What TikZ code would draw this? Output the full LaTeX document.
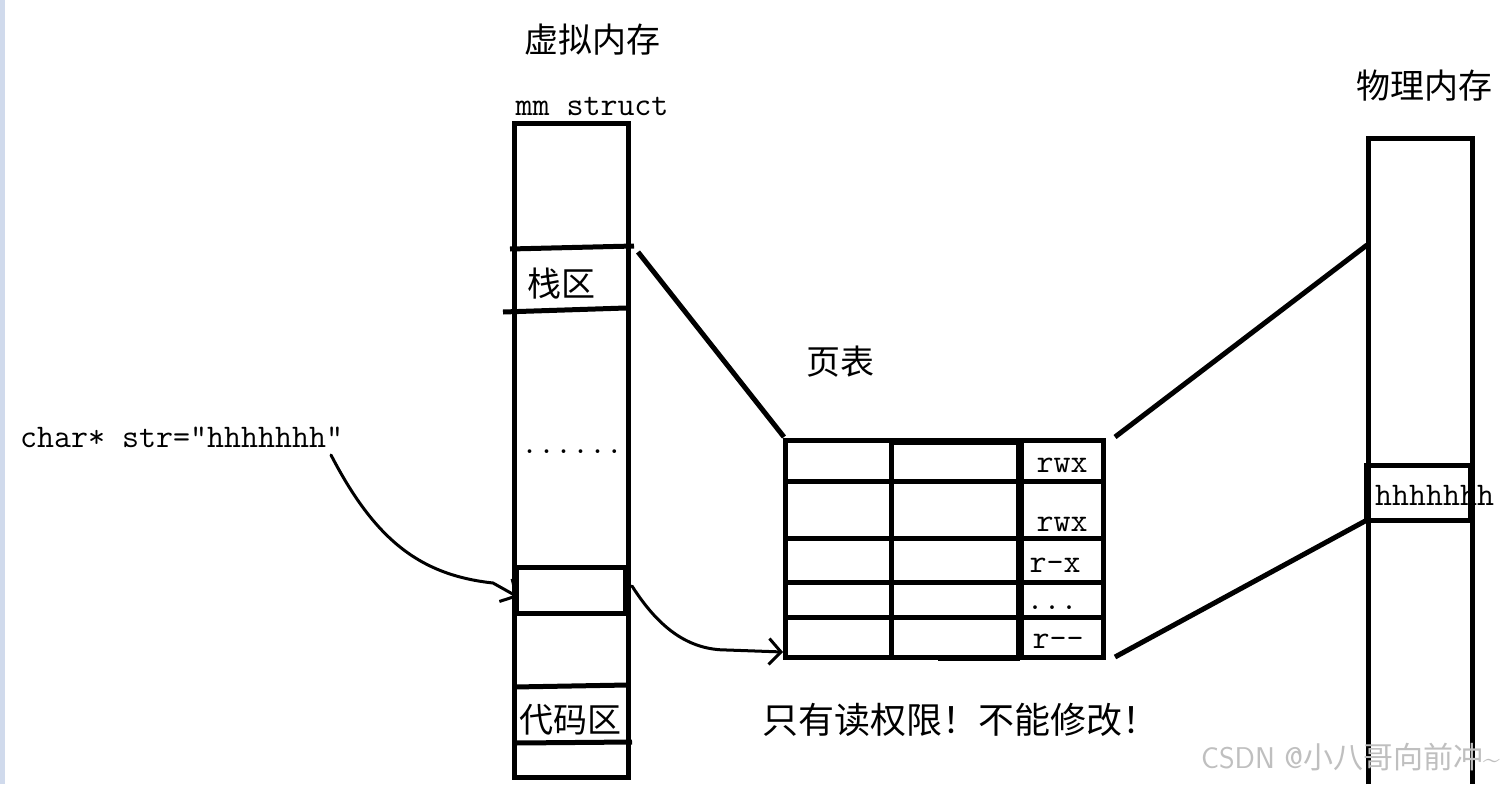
\documentclass[tikz,border=0pt]{standalone}
\usepackage{fontspec}
\newfontfamily\cjk{Noto Sans CJK SC}
\usetikzlibrary{arrows.meta}
\definecolor{strip}{RGB}{208,218,236}
\begin{document}
\begin{tikzpicture}[x=1pt,y=-1pt,
  bold/.style={line width=5pt},
  hand/.style={line width=3pt, line cap=round, line join=round},
  barb/.style={-{Straight Barb[length=12pt,width=26pt,line width=3pt]}},
  cn/.style={font=\cjk\fontsize{34}{34}\selectfont, inner sep=0pt},
  mono/.style={font=\ttfamily\fontsize{33}{33}\selectfont, inner sep=0pt},
  wm/.style={font=\sffamily\fontsize{30}{30}\selectfont, text=black!25, inner sep=0pt}]
\useasboundingbox (0,0) rectangle (1506,784);
\fill[white] (0,0) rectangle (1506,784);
\fill[strip] (0,0) rectangle (5,784);

% ---------- virtual memory ----------
\node[cn] (vtitle) at (592,40) {虚拟内存};
\node[mono] (mm) at (592,106) {mm struct};
\draw[bold] (514,123) rectangle (628,777);
\draw[bold] (510,249) -- (634,246);
\draw[bold] (503,312) -- (626,308);
\node[cn,anchor=west] (stack) at (527,284) {栈区};
\node[mono] (vdots) at (572,452) {......};
\draw[bold] (516,567) rectangle (625,613);
\draw[bold] (514,687) -- (628,685);
\draw[bold] (516,743) -- (632,742);
\node[cn,anchor=west] (code) at (519,720) {代码区};
\coordinate (vstr) at (518,597);
\coordinate (vstackR) at (638,252);
\coordinate (vstrR) at (632,586);

% ---------- left text ----------
\node[mono,anchor=west] (decl) at (20,437) {char* str="hhhhhhh"};
\coordinate (declEnd) at (331,455);

% ---------- page table ----------
\node[cn] (pttitle) at (840,362) {页表};
\draw[bold] (785,440) rectangle (1103,657);
\foreach \yy in {481,538,582,617}{\draw[bold] (785,\yy) -- (1106,\yy);}
\draw[bold] (891,440) -- (891,657);
\draw[line width=8pt] (1020,440) -- (1020,657);
\draw[line width=7pt] (891,441) -- (1020,441);
\draw[bold] (938,658) -- (1020,658);
\node[mono] (p1) at (1062,465) {rwx};
\node[mono] (p2) at (1062,524) {rwx};
\node[mono] (p3) at (1055,565) {r-x};
\node[mono,anchor=base] (p4) at (1052,609) {...};
\node[mono] (p5) at (1058,641) {r--};
\coordinate (ptTL) at (784,437);
\coordinate (ptTR) at (1115,437);
\coordinate (ptBR) at (1115,657);
\coordinate (ptIn) at (783,652);

% ---------- physical memory ----------
\node[cn] (ptitle) at (1424,86) {物理内存};
\draw[bold] (1368,784) -- (1368,138) -- (1472,138) -- (1472,784);
\draw[bold] (1366,465) rectangle (1470,520);
\node[mono,anchor=west] (hh) at (1375,495) {hhhhhhh};
\coordinate (phA) at (1367,245);
\coordinate (phB) at (1367,520);

% ---------- connectors ----------
\draw[bold] (vstackR) -- (ptTL);
\draw[bold] (ptTR) -- (phA);
\draw[bold] (ptBR) -- (phB);
\draw[hand,barb] (declEnd) .. controls (375,540) and (420,575) .. (493,583) -- (vstr);
\draw[hand,barb] (vstrR) .. controls (660,630) and (690,650) .. (727,650) -- (ptIn);

% ---------- notes ----------
\node[cn,font=\cjk\fontsize{36}{36}\selectfont] (note) at (960,720) {只有读权限！不能修改！};
\node[wm,anchor=east] (mark) at (1500,757) {CSDN @\cjk 小八哥向前冲\sffamily\textasciitilde};
\end{tikzpicture}
\end{document}
